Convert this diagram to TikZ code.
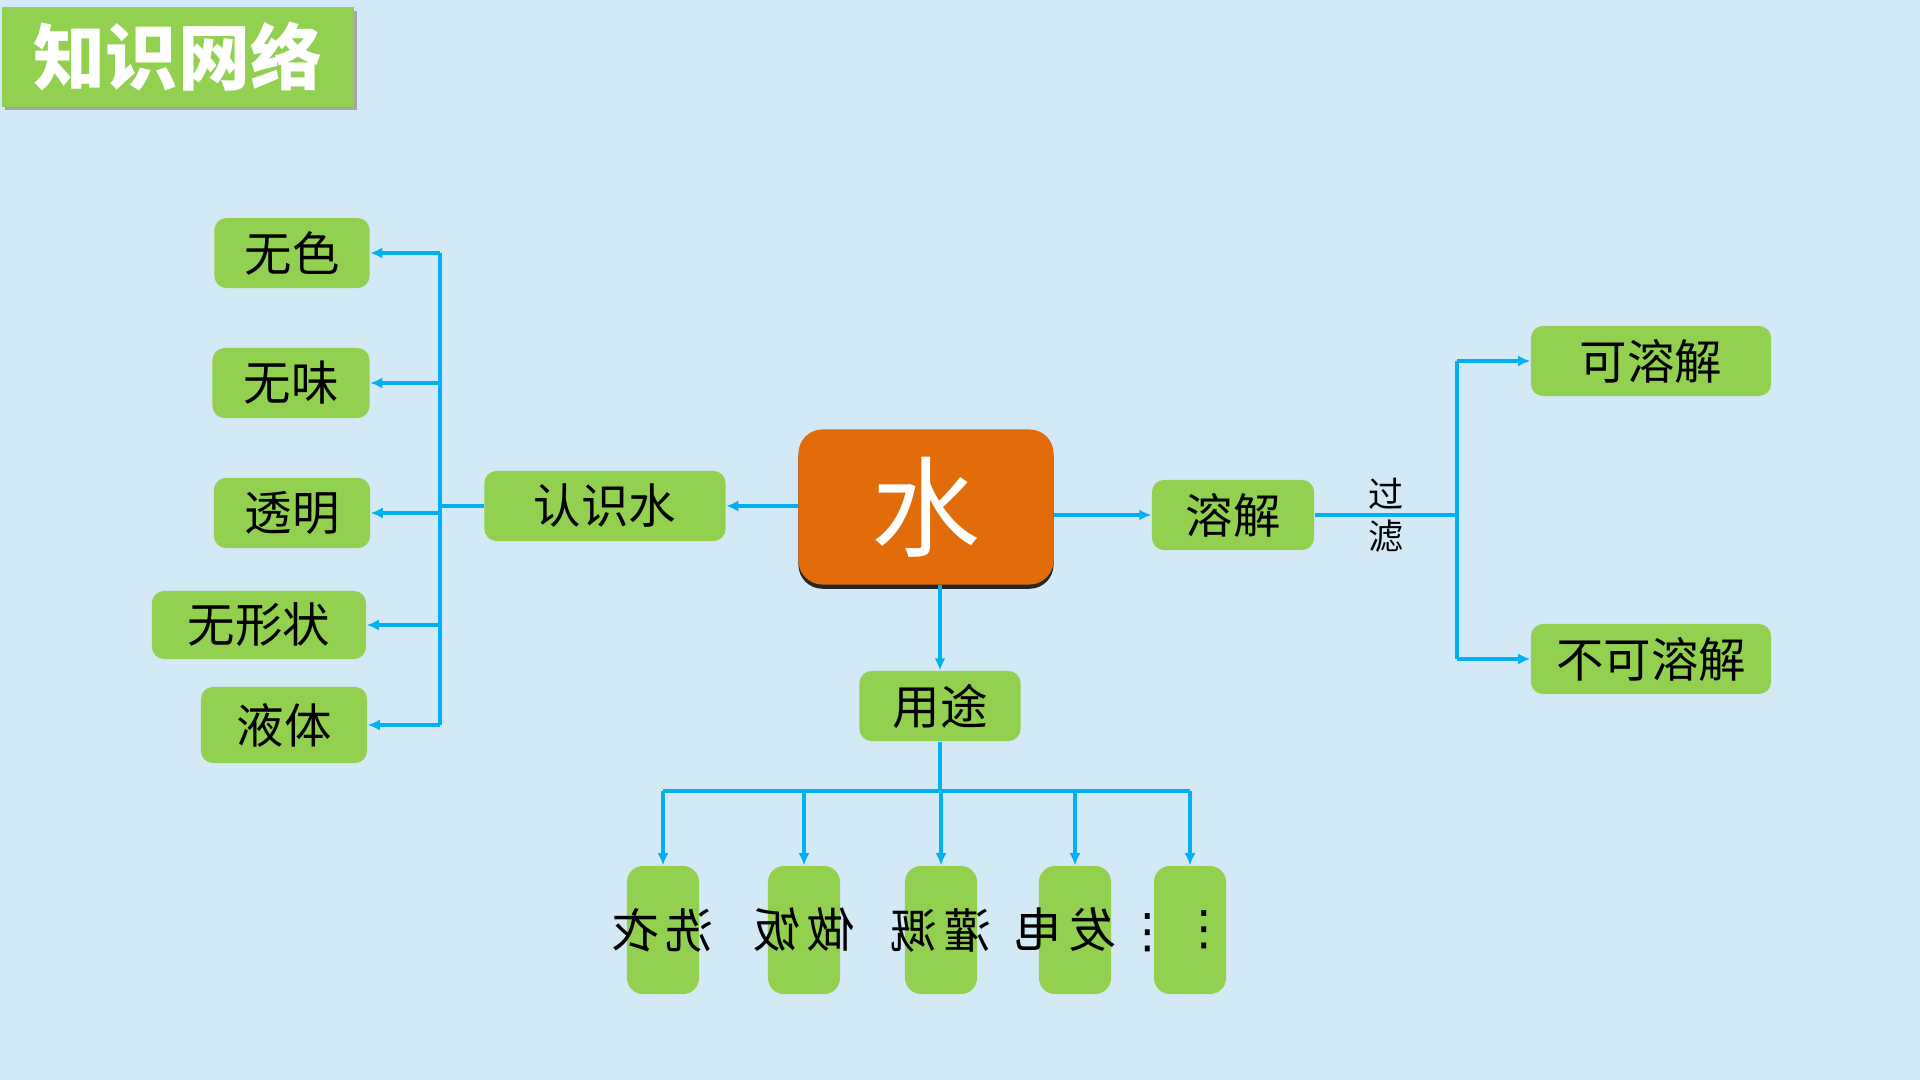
\documentclass[tikz,border=0pt]{standalone}
\usepackage{fontspec}
\usepackage{graphicx}
\setmainfont{Noto Sans CJK SC}
\newfontfamily\dotsfont{DejaVu Sans}
\usetikzlibrary{arrows.meta,positioning,calc,shadows}
\definecolor{bgblue}{RGB}{212,233,246}
\definecolor{leafgreen}{RGB}{146,208,80}
\definecolor{waterorange}{RGB}{227,108,10}
\definecolor{linkblue}{RGB}{0,176,240}
\tikzset{
  kwbox/.style={fill=leafgreen, rounded corners=1.2mm, inner sep=0pt, minimum height=0.7cm, font=\fontsize{13.5}{16}\selectfont},
  kwuse/.style={kwbox, minimum width=0.72cm, minimum height=1.28cm, rounded corners=1.6mm},
  kwwater/.style={fill=waterorange, rounded corners=2.4mm, minimum width=2.55cm, minimum height=1.55cm, text=white, font=\fontsize{31}{36}\selectfont, drop shadow={shadow xshift=0pt, shadow yshift=-1.2pt, fill=black!85, opacity=1}},
  kwtitle/.style={fill=leafgreen, minimum width=3.52cm, minimum height=0.99cm, inner sep=0pt, text=white, font=\fontsize{20.5}{24}\bfseries\selectfont},
  kwarrow/.style={-{Latex[length=1.2mm, width=1.1mm]}, draw=linkblue, line width=0.9pt},
  kwline/.style={draw=linkblue, line width=0.9pt},
  kwlabel/.style={font=\fontsize{10}{12}\selectfont, inner sep=1pt},
}
\newcommand{\kwflip}[1]{\makebox[0pt]{\reflectbox{#1}}}

\begin{document}
\begin{tikzpicture}[x=0.01cm, y=-0.01cm]
  % Background
  \fill[bgblue] (0,0) rectangle (1920,1080);
  \useasboundingbox (0,0) rectangle (1920,1080);

  % Title
  \fill[black!35] (5,11) rectangle (357,110);
  \node[kwtitle] (title) at (178,57) {知识网络};

  % Centre and branches
  \node[kwwater] (water) at (926,507) {水};
  \node[kwbox, minimum width=2.41cm] (know) at (605,506) {认识水};
  \node[kwbox, minimum width=1.62cm] (dissolve) at (1233,515) {溶解};
  \node[kwbox, minimum width=1.61cm] (use) at (940,706) {用途};

  % Properties
  \node[kwbox, minimum width=1.55cm] (colorless) at (292,253) {无色};
  \node[kwbox, minimum width=1.57cm] (odorless) at (291,383) {无味};
  \node[kwbox, minimum width=1.56cm] (clear) at (292,513) {透明};
  \node[kwbox, minimum width=2.14cm, minimum height=0.68cm] (shapeless) at (259,625) {无形状};
  \node[kwbox, minimum width=1.66cm, minimum height=0.76cm] (liquid) at (284,725) {液体};

  % Solubility
  \node[kwbox, minimum width=2.4cm] (soluble) at (1651,361) {可溶解};
  \node[kwbox, minimum width=2.4cm] (insoluble) at (1651,659) {不可溶解};

  % Uses
  \node[kwuse] (wash) at (663,930) {\kwflip{洗\kern2pt 衣}};
  \node[kwuse] (cook) at (804,930) {\kwflip{做\kern2pt 饭}};
  \node[kwuse] (irrigate) at (941,930) {\kwflip{灌\kern2pt 溉}};
  \node[kwuse] (power) at (1075,930) {\makebox[0pt]{\hspace{0.36cm}\reflectbox{{\dotsfont ⋮}\kern2pt 发\kern2pt 电}}};
  \node[kwuse] (more) at (1190,930) {\makebox[0pt]{\hspace{0.28cm}{\dotsfont ⋮}}};

  % Connectors
  \coordinate (lbus) at (440,506);
  \coordinate (rbus) at (1457,515);
  \coordinate (bbus) at (942,791);

  \draw[kwarrow] (water.west |- know) -- (know.east);
  \draw[kwline] (know.west) -- (lbus);
  \draw[kwline] (lbus |- colorless) -- (lbus |- liquid);
  \foreach \n in {colorless,odorless,clear,shapeless,liquid}
    \draw[kwarrow] (lbus |- \n) -- (\n.east);

  \draw[kwarrow] (water.east |- dissolve) -- (dissolve.west);
  \draw[kwline] (dissolve.east) -- (rbus)
    node[kwlabel, midway, above] {过} node[kwlabel, midway, below] {滤};
  \draw[kwline] (rbus |- soluble) -- (rbus |- insoluble);
  \foreach \n in {soluble,insoluble}
    \draw[kwarrow] (rbus |- \n) -- (\n.west);

  \draw[kwarrow] (use.north |- water.south) -- (use.north);
  \draw[kwline] (use.south) -- (use.south |- bbus);
  \draw[kwline] (wash |- bbus) -- (more |- bbus);
  \foreach \n in {wash,cook,irrigate,power,more}
    \draw[kwarrow] (\n |- bbus) -- (\n.north);
\end{tikzpicture}
\end{document}
